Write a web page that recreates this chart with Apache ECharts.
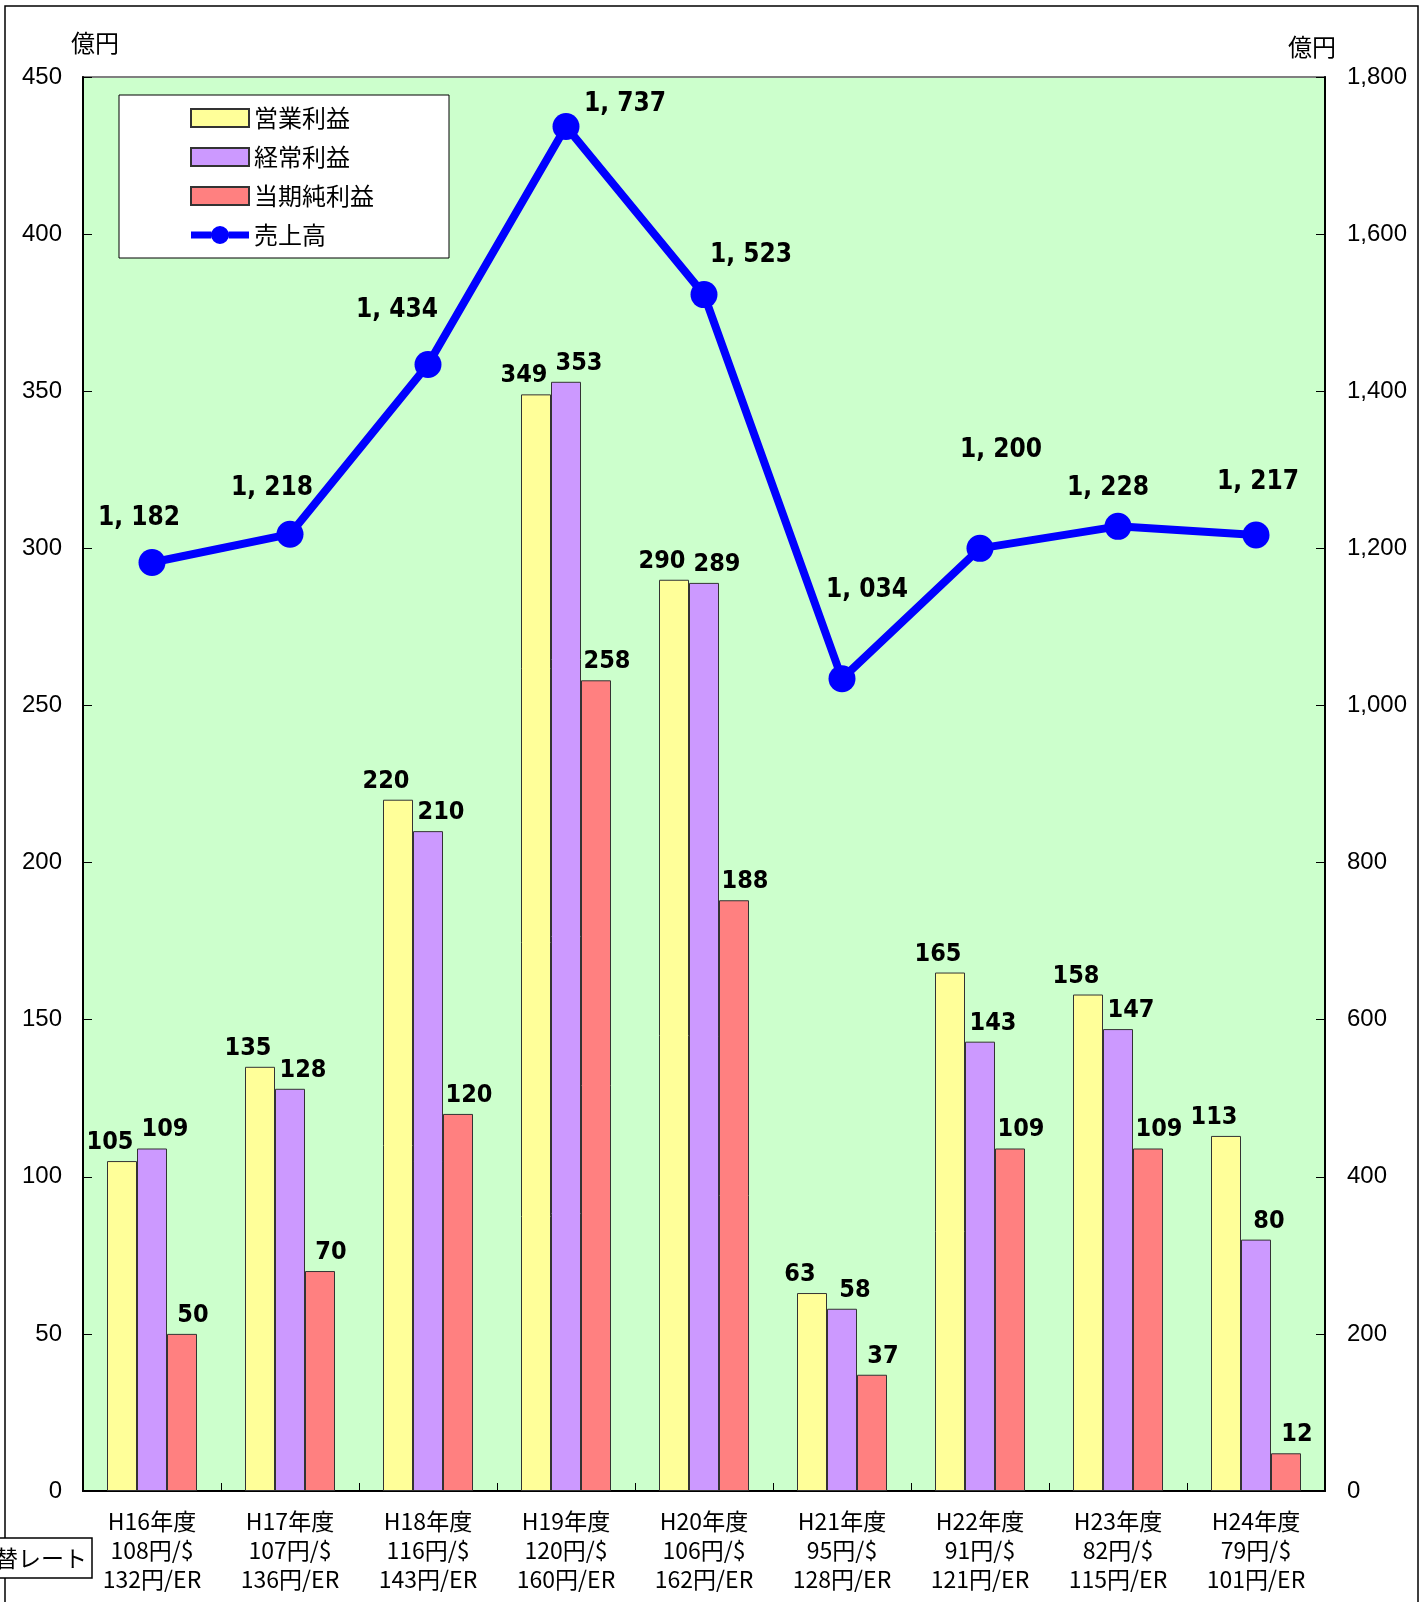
<!DOCTYPE html>
<html>
<head>
<meta charset="utf-8">
<script src="https://cdn.jsdelivr.net/npm/echarts@6/dist/echarts.min.js"></script>
<style>
html,body{margin:0;padding:0;background:#fff;}
#c{width:1426px;height:1602px;}
</style>
</head>
<body>
<div id="c"></div>
<script>
// ---- data ----
const fiscalYears = ['H16年度','H17年度','H18年度','H19年度','H20年度','H21年度','H22年度','H23年度','H24年度'];
const usdRates = ['108円/$','107円/$','116円/$','120円/$','106円/$','95円/$','91円/$','82円/$','79円/$'];
const eurRates = ['132円/ER','136円/ER','143円/ER','160円/ER','162円/ER','128円/ER','121円/ER','115円/ER','101円/ER'];
const operatingProfit = [105,135,220,349,290,63,165,158,113];
const ordinaryProfit  = [109,128,210,353,289,58,143,147,80];
const netProfit       = [50,70,120,258,188,37,109,109,12];
const sales           = [1182,1218,1434,1737,1523,1034,1200,1228,1217];
const leftTicks = {min:0, max:450, interval:50};
const rightTicks = {min:0, max:1800, interval:200};

// label placement (style, not data)
const salesLabelOffsets = [[-13,-44],[-18,-46],[-31,-54],[59,-22],[47,-39],[25,-88],[21,-98],[-10,-38],[2,-53]];

const categories = fiscalYears.map((y,i)=>y+'\n'+usdRates[i]+'\n'+eurRates[i]);
const numFont = '"DejaVu Sans Condensed","Liberation Sans Narrow","Liberation Sans",sans-serif';
const cjk = '"Noto Sans CJK JP","Liberation Sans",sans-serif';
const fmtSales = v => { const t = Math.floor(v/1000), r = v%1000; return t>0 ? t+', '+String(r).padStart(3,'0') : String(r); };

// legend icon for the line series: thick line with a circle in the middle
const lineIcon = 'path://M0,5.5H20.2V12.5H0Z M20,9A9,9 0 1,1 38,9A9,9 0 1,1 20,9Z M37.8,5.5H58V12.5H37.8Z';

const chart = echarts.init(document.getElementById('c'));
function barSeries(name, data, color, dx){
  return {
    name, type:'bar', data, barWidth:30, barGap:'0%', yAxisIndex:0,
    itemStyle:{color, borderColor:'#333', borderWidth:1},
    label:{show:true, position:'top', distance:6, offset:[dx,0], color:'#000',
      fontFamily:numFont, fontWeight:'bold', fontSize:25},
    z:2
  };
}
const option = {
  animation:false,
  backgroundColor:'#fff',
  grid:{left:83, right:101, top:77, bottom:111, show:true, backgroundColor:'#CCFFCC', borderColor:'#808080', borderWidth:2},
  legend:{
    left:190, top:106, orient:'vertical', itemWidth:58, itemHeight:18, itemGap:15, padding:0,
    textStyle:{fontFamily:cjk, fontSize:24, color:'#000'},
    data:[
      {name:'営業利益', icon:'rect'},
      {name:'経常利益', icon:'rect'},
      {name:'当期純利益', icon:'rect'},
      {name:'売上高', icon:lineIcon}
    ]
  },
  xAxis:{
    type:'category', data:categories,
    axisLine:{lineStyle:{color:'#000', width:2}},
    axisTick:{show:true, inside:true, length:8, lineStyle:{color:'#000'}},
    axisLabel:{color:'#000', fontFamily:cjk, fontSize:23, lineHeight:29, margin:16, interval:0}
  },
  yAxis:[
    {type:'value', min:leftTicks.min, max:leftTicks.max, interval:leftTicks.interval, position:'left',
      axisLine:{show:true, lineStyle:{color:'#000', width:2}},
      axisTick:{show:true, inside:true, length:9, lineStyle:{color:'#000'}},
      splitLine:{show:false},
      axisLabel:{color:'#000', fontFamily:'"Liberation Sans",Arial,sans-serif', fontSize:24, margin:21}},
    {type:'value', min:rightTicks.min, max:rightTicks.max, interval:rightTicks.interval, position:'right',
      axisLine:{show:true, lineStyle:{color:'#000', width:2}},
      axisTick:{show:true, inside:true, length:9, lineStyle:{color:'#000'}},
      splitLine:{show:false},
      axisLabel:{color:'#000', fontFamily:'"Liberation Sans",Arial,sans-serif', fontSize:24, margin:22,
        formatter: v => v.toLocaleString('en-US')}}
  ],
  series:[
    barSeries('営業利益', operatingProfit, '#FFFF99', -12),
    barSeries('経常利益', ordinaryProfit, '#CC99FF', 13),
    barSeries('当期純利益', netProfit, '#FF8080', 11),
    {
      name:'売上高', type:'line', yAxisIndex:1,
      data: sales.map((v,i)=>({value:v, label:{offset:salesLabelOffsets[i]}})),
      lineStyle:{color:'#0000FF', width:8},
      itemStyle:{color:'#0000FF'},
      symbol:'circle', symbolSize:27,
      label:{show:true, position:'inside', color:'#000', fontFamily:numFont, fontWeight:'bold', fontSize:26,
        formatter: p => fmtSales(p.value)},
      z:5
    }
  ],
  graphic:[
    {type:'rect', shape:{x:5, y:6, width:1413, height:1640}, style:{fill:'none', stroke:'#000', lineWidth:1.5}, z:-10, silent:true},
    {type:'rect', shape:{x:119, y:95, width:330, height:163}, style:{fill:'#fff', stroke:'#000', lineWidth:1}, z:3, silent:true},
    {type:'text', x:95, y:43, style:{text:'億円', font:'24px "Noto Sans CJK JP"', fill:'#000', textAlign:'center', textVerticalAlign:'middle'}},
    {type:'text', x:1312, y:47, style:{text:'億円', font:'24px "Noto Sans CJK JP"', fill:'#000', textAlign:'center', textVerticalAlign:'middle'}},
    {type:'rect', shape:{x:-40, y:1538, width:132, height:40}, style:{fill:'#fff', stroke:'#000', lineWidth:1.5}, z:10},
    {type:'text', x:87, y:1558, style:{text:'為替レート', font:'23px "Noto Sans CJK JP"', fill:'#000', textAlign:'right', textVerticalAlign:'middle'}, z:11}
  ]
};
chart.setOption(option);
</script>
</body>
</html>
